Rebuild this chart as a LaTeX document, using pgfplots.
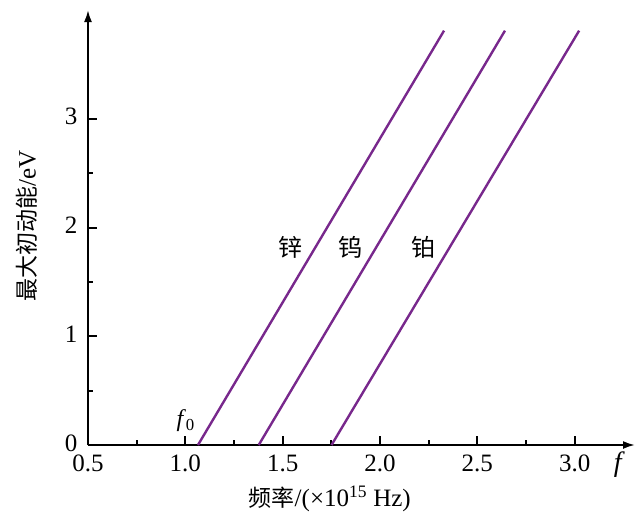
\documentclass[border=0pt]{standalone}
\usepackage{fontspec}
\setmainfont{Liberation Serif}
\newfontfamily\cjk{Noto Sans CJK SC}
\usepackage{pgfplots}
\pgfplotsset{compat=1.18}
\usetikzlibrary{arrows.meta}
\definecolor{lc}{RGB}{120,40,140}
\begin{document}
\begin{tikzpicture}
\path[use as bounding box] (-88pt,-78pt) rectangle (555pt,445pt);
\begin{axis}[
  at={(0pt,0pt)}, anchor=south west,
  scale only axis,
  width=547pt, height=435pt,
  xmin=0.5, xmax=3.31, ymin=0, ymax=4.0,
  axis lines=left,
  axis line style={line width=2pt},
  every outer x axis line/.append style={-{Latex[length=12pt,width=8pt]}},
  every outer y axis line/.append style={-{Latex[length=12pt,width=8pt]}},
  xtick={0.5,1.0,1.5,2.0,2.5,3.0},
  ytick={0,1,2,3},
  minor x tick num=1, minor y tick num=1,
  tick align=inside,
  xtick pos=bottom, ytick pos=left,
  major tick length=9pt, minor tick length=5pt,
  every tick/.style={line width=2pt, black},
  xticklabel style={yshift=-6pt, /pgf/number format/fixed, /pgf/number format/fixed zerofill, /pgf/number format/precision=1},
  /pgf/number format/assume math mode=true,
  tick label style={font=\fontsize{25}{29}\selectfont},
  yticklabel style={xshift=-7pt, yshift=2pt},
  label style={font=\fontsize{25}{29}\selectfont},
  xlabel={{\cjk\fontsize{23}{29}\selectfont 频率}/(×10\textsuperscript{15} Hz)},
  ylabel={{\cjk\fontsize{23}{29}\selectfont 最大初动能}/eV},
  xlabel style={at={(axis description cs:0.442,0)}, anchor=center, yshift=-54pt},
  ylabel style={at={(axis description cs:0,0.503)}, anchor=center, yshift=61pt},
  clip=false,
]
\addplot[lc, line width=2.4pt] coordinates {(1.065,0) (2.329,3.81)};
\addplot[lc, line width=2.4pt] coordinates {(1.377,0) (2.642,3.81)};
\addplot[lc, line width=2.4pt] coordinates {(1.751,0) (3.023,3.81)};
\node[font=\fontsize{24}{26}\selectfont\cjk] at (axis cs:1.538,1.82) {锌};
\node[font=\fontsize{24}{26}\selectfont\cjk] at (axis cs:1.846,1.82) {钨};
\node[font=\fontsize{24}{26}\selectfont\cjk] at (axis cs:2.224,1.82) {铂};
\node[font=\fontsize{24}{26}\selectfont] at (axis cs:1.002,0.22) {\textit{f}\textsubscript{0}};
\node[font=\fontsize{28}{30}\selectfont] at (axis cs:3.23,-0.18) {\textit{f}};
\end{axis}
\end{tikzpicture}
\end{document}
